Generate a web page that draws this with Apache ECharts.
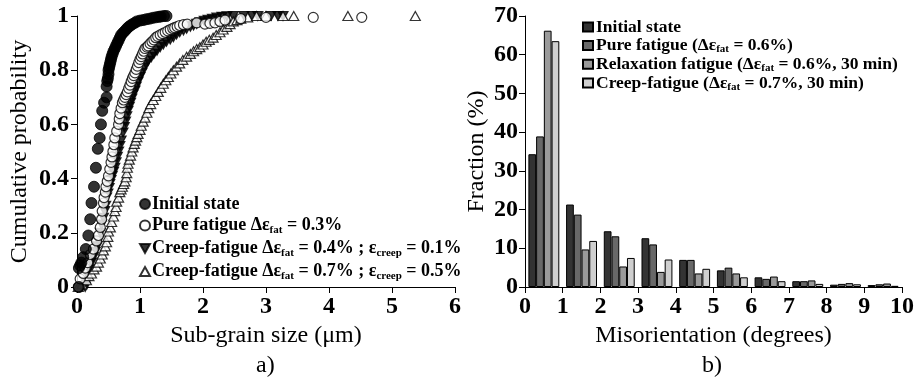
<!DOCTYPE html>
<html>
<head>
<meta charset="utf-8">
<script src="https://cdn.jsdelivr.net/npm/echarts@6/dist/echarts.min.js"></script>
<style>
  html, body { margin: 0; padding: 0; background: #fff; }
  #chart { width: 917px; height: 378px; }
</style>
</head>
<body>
<div id="chart"></div>
<script>
// ---- a) cumulative sub-grain size distributions ----
const initialSize = [0.03, 0.03, 0.05, 0.07, 0.10, 0.14, 0.18, 0.21, 0.23, 0.27, 0.30, 0.33, 0.36, 0.38, 0.40, 0.43, 0.47, 0.47, 0.48, 0.49, 0.50, 0.50, 0.51, 0.52, 0.53, 0.54, 0.55, 0.565, 0.58, 0.60, 0.62, 0.64, 0.66, 0.68, 0.70, 0.73, 0.76, 0.79, 0.82, 0.85, 0.88, 0.92, 0.95, 1.00, 1.05, 1.10, 1.15, 1.20, 1.25, 1.30, 1.33, 1.38, 1.42];
const initialProb = [0.00, 0.07, 0.08, 0.09, 0.11, 0.14, 0.19, 0.25, 0.31, 0.37, 0.44, 0.51, 0.55, 0.60, 0.65, 0.68, 0.70, 0.74, 0.76, 0.77, 0.785, 0.80, 0.81, 0.82, 0.83, 0.84, 0.85, 0.86, 0.87, 0.88, 0.89, 0.90, 0.91, 0.92, 0.93, 0.938, 0.945, 0.953, 0.96, 0.965, 0.97, 0.975, 0.98, 0.983, 0.985, 0.988, 0.99, 0.993, 0.995, 0.997, 0.998, 1.00, 1.00];

const pureSize = [0.02, 0.05, 0.10, 0.13, 0.17, 0.21, 0.26, 0.31, 0.34, 0.37, 0.39, 0.40, 0.42, 0.43, 0.45, 0.46, 0.48, 0.50, 0.52, 0.54, 0.555, 0.57, 0.585, 0.60, 0.63, 0.66, 0.67, 0.68, 0.70, 0.72, 0.74, 0.76, 0.78, 0.80, 0.82, 0.84, 0.86, 0.88, 0.90, 0.92, 0.94, 0.96, 0.98, 1.00, 1.02, 1.04, 1.06, 1.08, 1.11, 1.13, 1.16, 1.19, 1.22, 1.25, 1.28, 1.32, 1.36, 1.40, 1.44, 1.48, 1.52, 1.55, 1.59, 1.63, 1.69, 1.75, 1.90, 2.03, 2.11, 2.19, 2.27, 2.35, 2.60, 3.00, 3.75, 4.52];
const pureProb = [0.00, 0.03, 0.05, 0.07, 0.09, 0.12, 0.14, 0.17, 0.19, 0.22, 0.25, 0.28, 0.31, 0.33, 0.35, 0.37, 0.39, 0.41, 0.435, 0.46, 0.48, 0.50, 0.525, 0.55, 0.575, 0.60, 0.62, 0.64, 0.66, 0.68, 0.69, 0.70, 0.71, 0.72, 0.733, 0.745, 0.758, 0.77, 0.78, 0.79, 0.803, 0.815, 0.828, 0.84, 0.85, 0.86, 0.87, 0.88, 0.885, 0.89, 0.898, 0.905, 0.912, 0.92, 0.925, 0.93, 0.935, 0.94, 0.945, 0.95, 0.954, 0.957, 0.961, 0.965, 0.968, 0.97, 0.975, 0.97, 0.973, 0.975, 0.98, 0.985, 0.99, 0.995, 0.995, 0.995];

const creepLowSize = [0.13, 0.16, 0.18, 0.21, 0.23, 0.26, 0.29, 0.32, 0.34, 0.37, 0.39, 0.42, 0.44, 0.455, 0.47, 0.49, 0.51, 0.52, 0.54, 0.56, 0.58, 0.60, 0.62, 0.64, 0.66, 0.68, 0.70, 0.73, 0.75, 0.77, 0.79, 0.81, 0.83, 0.85, 0.87, 0.89, 0.92, 0.94, 0.97, 1.00, 1.03, 1.06, 1.10, 1.13, 1.18, 1.22, 1.27, 1.32, 1.37, 1.42, 1.48, 1.53, 1.58, 1.63, 1.69, 1.74, 1.80, 1.85, 1.90, 1.95, 2.02, 2.08, 2.15, 2.22, 2.30, 2.38, 2.48, 2.65, 2.78, 2.87, 3.08, 3.19, 3.27];
const creepLowProb = [0.00, 0.02, 0.04, 0.065, 0.09, 0.11, 0.13, 0.15, 0.17, 0.20, 0.23, 0.255, 0.28, 0.30, 0.33, 0.345, 0.365, 0.38, 0.395, 0.41, 0.425, 0.44, 0.46, 0.48, 0.50, 0.52, 0.54, 0.57, 0.59, 0.61, 0.63, 0.65, 0.665, 0.68, 0.695, 0.71, 0.725, 0.74, 0.758, 0.775, 0.79, 0.81, 0.822, 0.835, 0.848, 0.86, 0.872, 0.885, 0.895, 0.905, 0.913, 0.922, 0.932, 0.94, 0.947, 0.953, 0.96, 0.965, 0.971, 0.977, 0.982, 0.986, 0.99, 0.994, 0.997, 0.999, 1.00, 1.00, 1.00, 1.00, 1.00, 1.00, 1.00];

const creepHighSize = [0.02, 0.08, 0.15, 0.19, 0.23, 0.27, 0.31, 0.34, 0.37, 0.40, 0.42, 0.45, 0.47, 0.49, 0.50, 0.53, 0.55, 0.58, 0.60, 0.62, 0.63, 0.66, 0.68, 0.70, 0.72, 0.74, 0.76, 0.78, 0.79, 0.80, 0.81, 0.83, 0.85, 0.87, 0.89, 0.91, 0.93, 0.95, 0.97, 1.00, 1.02, 1.05, 1.08, 1.11, 1.14, 1.17, 1.21, 1.25, 1.29, 1.33, 1.37, 1.41, 1.45, 1.49, 1.53, 1.58, 1.63, 1.68, 1.74, 1.80, 1.85, 1.90, 1.95, 2.00, 2.05, 2.10, 2.16, 2.21, 2.27, 2.32, 2.38, 2.43, 2.48, 2.54, 2.60, 2.71, 2.85, 3.00, 3.27, 3.44, 4.30, 5.37];
const creepHighProb = [0.00, 0.01, 0.025, 0.04, 0.05, 0.065, 0.075, 0.09, 0.105, 0.12, 0.135, 0.15, 0.165, 0.185, 0.205, 0.22, 0.24, 0.26, 0.28, 0.295, 0.315, 0.33, 0.35, 0.36, 0.37, 0.38, 0.39, 0.405, 0.42, 0.44, 0.455, 0.47, 0.485, 0.50, 0.515, 0.528, 0.54, 0.553, 0.565, 0.58, 0.595, 0.61, 0.625, 0.643, 0.66, 0.675, 0.69, 0.705, 0.72, 0.735, 0.75, 0.763, 0.775, 0.788, 0.80, 0.813, 0.825, 0.838, 0.85, 0.86, 0.87, 0.878, 0.885, 0.895, 0.905, 0.912, 0.92, 0.93, 0.94, 0.95, 0.96, 0.97, 0.98, 0.985, 0.99, 0.995, 1.00, 1.00, 1.00, 1.00, 1.00, 1.00];

// ---- b) misorientation histograms (%) per 1-degree bin ----
const misoBins = ['0-1', '1-2', '2-3', '3-4', '4-5', '5-6', '6-7', '7-8', '8-9', '9-10'];
const initialState = [34.3, 21.3, 14.4, 12.6, 7.0, 4.3, 2.5, 1.5, 0.6, 0.5];
const pureFatigue = [38.9, 18.7, 13.1, 11.0, 7.0, 5.0, 2.1, 1.5, 0.8, 0.7];
const relaxFatigue = [66.2, 9.7, 5.3, 3.9, 3.5, 3.5, 2.7, 1.7, 1.0, 0.9];
const creepFatigue = [63.5, 11.9, 7.5, 7.1, 4.7, 2.5, 1.5, 0.8, 0.7, 0.3];

const FONT = 'Liberation Serif';
const zip = (xs, ys) => xs.map((x, i) => [x, ys[i]]);
const TRI_UP = 'path://M5,0L10,9L0,9Z';
const TRI_DOWN = 'path://M0,0L10,0L5,9Z';

const leftLegend = {
  'Initial state': '{m|Initial state}',
  'Pure fatigue': '{m|Pure fatigue Δε}{s|fat}{m| = 0.3%}',
  'Creep-fatigue 0.4%': '{m|Creep-fatigue Δε}{s|fat}{m| = 0.4% ; ε}{s|creep}{m| = 0.1%}',
  'Creep-fatigue 0.7%': '{m|Creep-fatigue Δε}{s|fat}{m| = 0.7% ; ε}{s|creep}{m| = 0.5%}'
};
const rightLegend = {
  'Initial state (b)': '{m|Initial state}',
  'Pure fatigue (b)': '{m|Pure fatigue (Δε}{s|fat}{m| = 0.6%)}',
  'Relaxation fatigue': '{m|Relaxation fatigue (Δε}{s|fat}{m| = 0.6%, 30 min)}',
  'Creep-fatigue (b)': '{m|Creep-fatigue (Δε}{s|fat}{m| = 0.7%, 30 min)}'
};

function richStyle(size, lh, subSize) {
  return {
    m: { fontFamily: FONT, fontSize: size, fontWeight: 'bold', color: '#000', lineHeight: lh, verticalAlign: 'middle' },
    s: { fontFamily: FONT, fontSize: subSize, fontWeight: 'bold', color: '#000', lineHeight: subSize, verticalAlign: 'bottom' }
  };
}

const axisLine = { show: true, lineStyle: { color: '#000', width: 1 } };
const axisTick = { show: true, inside: false, length: 6, lineStyle: { color: '#000', width: 1 } };
const tickLabel = { fontFamily: FONT, fontSize: 24, fontWeight: 'bold', color: '#000' };
const nameStyle = { fontFamily: FONT, fontSize: 24, color: '#000' };

const barColors = ['#333333', '#686868', '#9a9a9a', '#cfcfcf'];
const barNames = ['Initial state (b)', 'Pure fatigue (b)', 'Relaxation fatigue', 'Creep-fatigue (b)'];
const barValues = [initialState, pureFatigue, relaxFatigue, creepFatigue];

const chart = echarts.init(document.getElementById('chart'), null, { renderer: 'canvas' });
chart.setOption({
  animation: false,
  backgroundColor: '#fff',
  grid: [
    { left: 77, top: 16, width: 378, height: 271 },
    { left: 525, top: 16, width: 377, height: 271 }
  ],
  xAxis: [
    {
      gridIndex: 0, type: 'value', position: 'bottom', min: 0, max: 6, interval: 1,
      name: 'Sub-grain size (μm)', nameLocation: 'middle', nameGap: 33, nameTextStyle: nameStyle,
      axisLine, axisTick, axisLabel: Object.assign({ margin: 8 }, tickLabel), splitLine: { show: false }
    },
    {
      gridIndex: 1, type: 'category', position: 'bottom', data: misoBins, show: false
    },
    {
      gridIndex: 1, type: 'value', position: 'bottom', offset: 0, min: 0, max: 10, interval: 1,
      name: 'Misorientation (degrees)', nameLocation: 'middle', nameGap: 33, nameTextStyle: nameStyle,
      axisLine, axisTick, axisLabel: Object.assign({ margin: 8 }, tickLabel), splitLine: { show: false }
    }
  ],
  yAxis: [
    {
      gridIndex: 0, type: 'value', min: 0, max: 1, interval: 0.2,
      name: 'Cumulative probability', nameLocation: 'middle', nameGap: 45, nameTextStyle: nameStyle,
      axisLine, axisTick, axisLabel: Object.assign({ margin: 8 }, tickLabel), splitLine: { show: false }
    },
    {
      gridIndex: 1, type: 'value', min: 0, max: 70, interval: 10,
      name: 'Fraction (%)', nameLocation: 'middle', nameGap: 36, nameTextStyle: nameStyle,
      axisLine, axisTick, axisLabel: Object.assign({ margin: 7 }, tickLabel), splitLine: { show: false }
    }
  ],
  legend: [
    {
      left: 134, top: 190, orient: 'vertical', itemGap: 3.5, itemWidth: 10, itemHeight: 10,
      data: [
        { name: 'Initial state', icon: 'circle' },
        { name: 'Pure fatigue', icon: 'circle' },
        { name: 'Creep-fatigue 0.4%', icon: TRI_DOWN },
        { name: 'Creep-fatigue 0.7%', icon: TRI_UP }
      ],
      formatter: n => leftLegend[n],
      textStyle: { fontFamily: FONT, fontSize: 18, fontWeight: 'bold', color: '#000', padding: [0, 0, 0, -3], rich: richStyle(18, 21, 11) }
    },
    {
      left: 577, top: 13, orient: 'vertical', itemGap: 0.5, itemWidth: 10, itemHeight: 9,
      data: barNames.map(n => ({ name: n, icon: 'rect' })),
      formatter: n => rightLegend[n],
      textStyle: { fontFamily: FONT, fontSize: 17.5, fontWeight: 'bold', color: '#000', padding: [0, 0, 0, -2], rich: richStyle(17.5, 18.5, 11) }
    }
  ],
  graphic: [
    { type: 'text', left: 256, top: 354, style: { text: 'a)', font: '24px "Liberation Serif"', fill: '#000' } },
    { type: 'text', left: 702, top: 354, style: { text: 'b)', font: '24px "Liberation Serif"', fill: '#000' } }
  ],
  series: [
    {
      name: 'Creep-fatigue 0.4%', type: 'scatter', xAxisIndex: 0, yAxisIndex: 0,
      symbol: TRI_DOWN, symbolSize: [10, 9],
      itemStyle: { color: '#000', borderColor: '#000', borderWidth: 1.2 },
      data: zip(creepLowSize, creepLowProb), z: 2
    },
    {
      name: 'Creep-fatigue 0.7%', type: 'scatter', xAxisIndex: 0, yAxisIndex: 0,
      symbol: TRI_UP, symbolSize: [10, 9],
      itemStyle: { color: '#fff', borderColor: '#000', borderWidth: 1.2 },
      data: zip(creepHighSize, creepHighProb), z: 3
    },
    {
      name: 'Pure fatigue', type: 'scatter', xAxisIndex: 0, yAxisIndex: 0,
      symbol: 'circle', symbolSize: 10,
      itemStyle: { color: '#fff', borderColor: '#000', borderWidth: 1.2 },
      data: zip(pureSize, pureProb), z: 4
    },
    {
      name: 'Initial state', type: 'scatter', xAxisIndex: 0, yAxisIndex: 0,
      symbol: 'circle', symbolSize: 11,
      itemStyle: { color: '#000', borderColor: '#000', borderWidth: 1 },
      data: zip(initialSize, initialProb), z: 5
    }
  ].concat(barNames.map((n, i) => ({
    name: n, type: 'bar', xAxisIndex: 1, yAxisIndex: 1,
    barGap: '0%', barCategoryGap: '18%',
    itemStyle: { color: barColors[i], borderColor: '#000', borderWidth: 1 },
    data: barValues[i]
  })))
});
</script>
</body>
</html>
